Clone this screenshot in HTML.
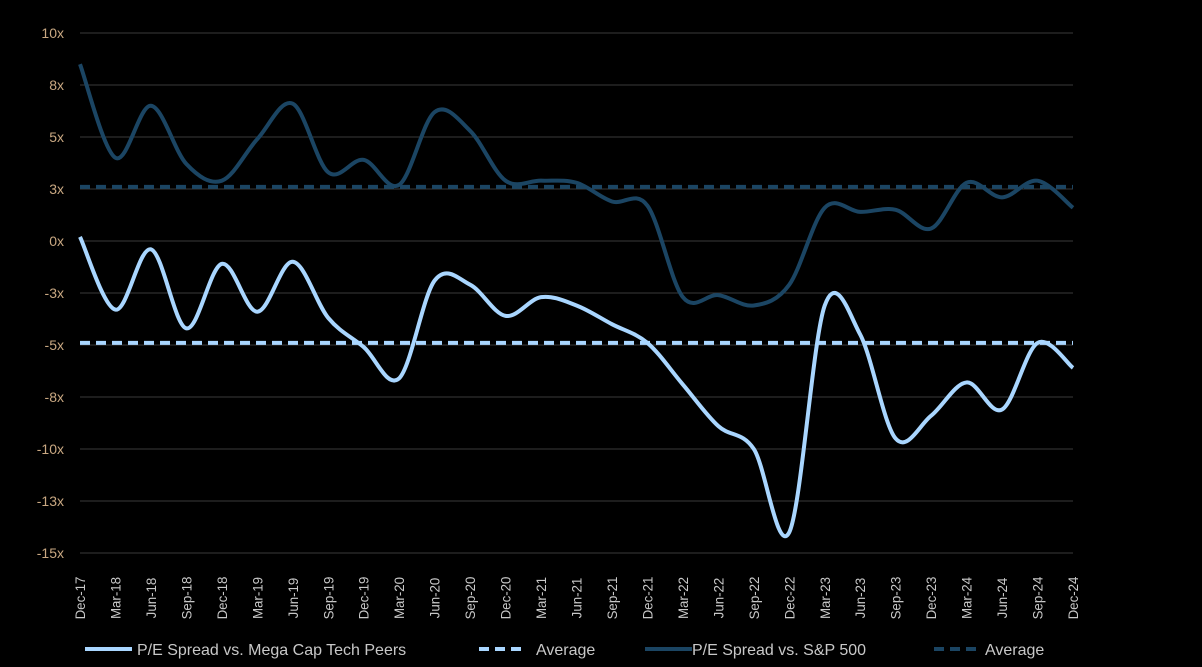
<!DOCTYPE html>
<html><head><meta charset="utf-8"><style>
html,body{margin:0;padding:0;background:#000;}
svg{display:block;font-family:"Liberation Sans",Arial,sans-serif;}
</style></head><body>
<svg id="chart" width="1202" height="667" viewBox="0 0 1202 667">
<g id="grid"></g>
<g id="ylab"></g>
<g id="xlab"></g>
<g id="series"></g>
<g id="legend">
  <g>
    <line x1="85" y1="649" x2="132" y2="649" stroke="#a9d6ff" stroke-width="4"/>
    <text x="137" y="655" fill="#c8c8c8" font-size="16">P/E Spread vs. Mega Cap Tech Peers</text>
  </g>
  <g>
    <line x1="479" y1="649" x2="526" y2="649" stroke="#a9d6ff" stroke-width="4" stroke-dasharray="10,6"/>
    <text x="536" y="655" fill="#c8c8c8" font-size="16">Average</text>
  </g>
  <g>
    <line x1="645" y1="649" x2="692" y2="649" stroke="#1b4563" stroke-width="4"/>
    <text x="692" y="655" fill="#c8c8c8" font-size="16">P/E Spread vs. S&amp;P 500</text>
  </g>
  <g>
    <line x1="934" y1="649" x2="980" y2="649" stroke="#1b4563" stroke-width="4" stroke-dasharray="10,6"/>
    <text x="985" y="655" fill="#c8c8c8" font-size="16">Average</text>
  </g>
</g>
</svg>
<script>
const categories = ["Dec-17","Mar-18","Jun-18","Sep-18","Dec-18","Mar-19","Jun-19","Sep-19","Dec-19","Mar-20","Jun-20","Sep-20","Dec-20","Mar-21","Jun-21","Sep-21","Dec-21","Mar-22","Jun-22","Sep-22","Dec-22","Mar-23","Jun-23","Sep-23","Dec-23","Mar-24","Jun-24","Sep-24","Dec-24"];
const megaCap = [0.2,-3.3,-0.4,-4.2,-1.1,-3.4,-1.0,-3.7,-5.1,-6.6,-1.9,-2.1,-3.6,-2.7,-3.1,-4.0,-4.9,-6.9,-8.9,-10.0,-14.0,-3.1,-4.5,-9.5,-8.4,-6.8,-8.1,-4.9,-6.1];
const megaCapAvg = -4.9;
const sp500 = [8.5,4.0,6.5,3.7,2.9,4.9,6.6,3.3,3.9,2.7,6.2,5.3,2.9,2.9,2.8,1.9,1.7,-2.7,-2.6,-3.1,-2.1,1.6,1.4,1.5,0.6,2.8,2.1,2.9,1.6];
const sp500Avg = 2.6;
const yTicks = [10,7.5,5,2.5,0,-2.5,-5,-7.5,-10,-12.5,-15];
const yTickLabels = ["10x","8x","5x","3x","0x","-3x","-5x","-8x","-10x","-13x","-15x"];

const NS="http://www.w3.org/2000/svg";
const X0=80,X1=1073,Y0=241,PPU=20.8;
const x=i=>X0+i*(X1-X0)/(categories.length-1);
const y=v=>Y0-v*PPU;
function mk(tag,attrs,parent){const e=document.createElementNS(NS,tag);for(const k in attrs)e.setAttribute(k,attrs[k]);parent.appendChild(e);return e;}
const grid=document.getElementById('grid'),ylab=document.getElementById('ylab'),xlab=document.getElementById('xlab'),ser=document.getElementById('series');
yTicks.forEach((t,i)=>{
  const l=mk('line',{x1:X0,x2:X1,y1:y(t),y2:y(t),stroke:'#3a3a3a','stroke-width':1},grid);
  
  
  const tx=mk('text',{x:64,y:y(t)+5,'text-anchor':'end',fill:'#c9a882','font-size':14},ylab);
  
  
  tx.textContent=yTickLabels[i];
});
categories.forEach((c,i)=>{
  const tx=mk('text',{transform:`translate(${x(i)+5},${598}) rotate(-90) scale(0.95,1)`,'text-anchor':'middle',fill:'#c8c8c8','font-size':14},xlab);
  
  
  tx.textContent=c;
});
function smooth(vals){
  const p=vals.map((v,i)=>[x(i),y(v)]);let d=`M${p[0][0]},${p[0][1]}`;
  for(let i=0;i<p.length-1;i++){const a=p[i-1]||p[i],b=p[i],c=p[i+1],e=p[i+2]||c;
    d+=` C${b[0]+(c[0]-a[0])/6},${b[1]+(c[1]-a[1])/6} ${c[0]-(e[0]-b[0])/6},${c[1]-(e[1]-b[1])/6} ${c[0]},${c[1]}`;}
  return d;}
const a1=mk('line',{x1:X0,x2:X1,y1:y(sp500Avg),y2:y(sp500Avg),stroke:'#1b4563','stroke-width':4,'stroke-dasharray':'10,6'},ser);


const a2=mk('line',{x1:X0,x2:X1,y1:y(megaCapAvg),y2:y(megaCapAvg),stroke:'#a9d6ff','stroke-width':4,'stroke-dasharray':'10,6'},ser);


const l1=mk('path',{d:smooth(sp500),fill:'none',stroke:'#1b4563','stroke-width':4},ser);


const l2=mk('path',{d:smooth(megaCap),fill:'none',stroke:'#a9d6ff','stroke-width':4},ser);


</script>
</body></html>
